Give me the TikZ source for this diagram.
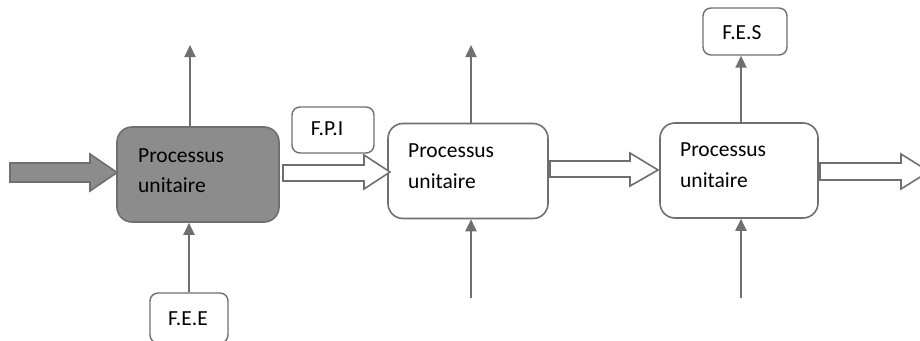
\documentclass[tikz,border=0pt]{standalone}
\usepackage{fontspec}
\setmainfont{Carlito}
\usetikzlibrary{arrows.meta}
\definecolor{edge}{HTML}{6F6F6F}
\definecolor{darkfill}{HTML}{8C8C8C}
\tikzset{
  procbox/.style={draw=edge, line width=1.6pt, rounded corners=15pt, fill=white, minimum width=#1, minimum height=95pt, inner sep=0pt},
  procbox/.default=160pt,
  tagbox/.style={draw=edge, line width=1.4pt, rounded corners=8pt, fill=white, inner sep=0pt},
  lbl/.style={font=\fontsize{21.5pt}{26pt}\selectfont, text=black, inner sep=0pt},
  flow/.style={draw=edge, line width=1.6pt, line join=miter},
  uparrow/.style={draw=edge, line width=2pt, -{Triangle[width=11pt,length=12pt]}}
}
\begin{document}
\begin{tikzpicture}[x=1pt,y=-1pt]
\clip (0,0) rectangle (920,340);
\useasboundingbox (0,0) rectangle (920,340);
% process boxes
\node[procbox=162pt, fill=darkfill] (b1) at (198,174.5) {};
\node[procbox=160pt] (b2) at (468,171) {};
\node[procbox=158pt] (b3) at (739,170.5) {};
% labels inside boxes
\node[lbl, anchor=base west] (t1a) at (138,162) {Processus};
\node[lbl, anchor=base west] (t1b) at (138,192) {unitaire};
\node[lbl, anchor=base west] (t2a) at (408,157) {Processus};
\node[lbl, anchor=base west] (t2b) at (408,188) {unitaire};
\node[lbl, anchor=base west] (t3a) at (680,156) {Processus};
\node[lbl, anchor=base west] (t3b) at (680,187) {unitaire};
% block arrows
\path[flow, fill=darkfill] (10,163) -- (90,163) -- (90,154) -- (117,172.5) -- (90,191) -- (90,182) -- (10,182) -- cycle;
\path[flow, fill=white] (283,165) -- (364,165) -- (364,155) -- (390,172) -- (364,189) -- (364,181) -- (283,181) -- cycle;
\path[flow, fill=white] (550,161) -- (630,161) -- (630,153) -- (658,170) -- (630,186) -- (630,177) -- (550,177) -- cycle;
\path[flow, fill=white] (820,163) -- (901,163) -- (901,154) -- (929,171.5) -- (901,189) -- (901,180) -- (820,180) -- cycle;
% tag boxes
\node[tagbox, minimum width=82pt, minimum height=46pt] (fpi) at (333,130) {};
\node[lbl, anchor=base] (fpit) at (327,135) {F.P.I};
\node[tagbox, minimum width=84pt, minimum height=47pt] (fes) at (745,31.5) {};
\node[lbl, anchor=base] (fest) at (742,39) {F.E.S};
\node[tagbox, minimum width=78pt, minimum height=50pt] (fee) at (189,318) {};
\node[lbl, anchor=base] (feet) at (188,325) {F.E.E};
% vertical arrows
\coordinate (u1) at (190,45);
\coordinate (u2) at (471,45);
\coordinate (u3) at (741,0);
\coordinate (d2) at (471,298);
\coordinate (d3) at (741,298);
\draw[uparrow] (u1 |- b1.north) -- (u1);
\draw[uparrow] (u2 |- b2.north) -- (u2);
\draw[uparrow] (u3 |- b3.north) -- (u3 |- fes.south);
\draw[uparrow] (fee.north) -- (fee.north |- b1.south);
\draw[uparrow] (d2) -- (d2 |- b2.south);
\draw[uparrow] (d3) -- (d3 |- b3.south);
\end{tikzpicture}
\end{document}
